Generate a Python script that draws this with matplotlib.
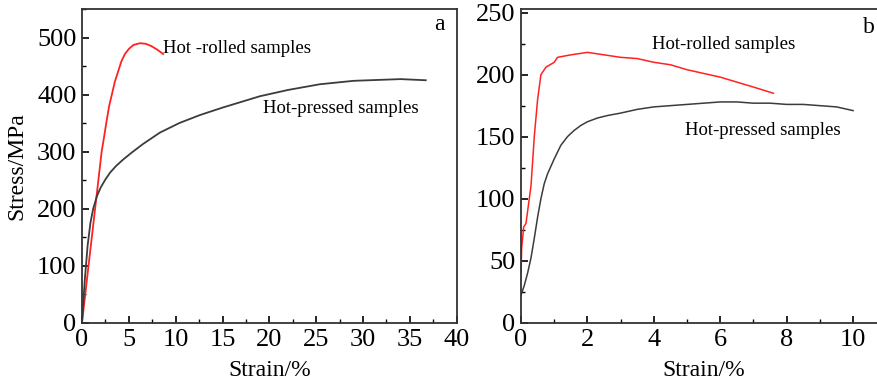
import matplotlib
matplotlib.use('Agg')
import matplotlib.pyplot as plt
from matplotlib.ticker import MultipleLocator

plt.rcParams['font.family'] = ['Liberation Serif', 'DejaVu Serif']

# panel a
a_rolled_strain = [0, 0.7, 1.4, 1.75, 2.1, 2.4, 2.63, 2.9, 3.16, 3.5, 3.87, 4.2, 4.58, 5.0, 5.5, 6.2, 6.8, 7.4, 8.0, 8.67]
a_rolled_stress = [0, 100, 200, 250, 300, 330, 354, 380, 398, 422, 441, 458, 471, 480, 487, 490, 489, 485, 479, 471]
a_pressed_strain = [0, 0.3, 0.6, 0.9, 1.2, 1.6, 2.0, 2.5, 3.0, 3.6, 4.4, 5.3, 6.5, 8.3, 10.4, 12.6, 15, 19, 22, 25.4, 29, 34, 36.7]
a_pressed_stress = [0, 75, 135, 175, 200, 222, 237, 251, 263, 274, 286, 298, 313, 333, 350, 364, 377, 397, 408, 418, 424, 427, 425]

# panel b
b_rolled_strain = [0, 0.02, 0.08, 0.15, 0.3, 0.4, 0.5, 0.6, 0.75, 1.0, 1.1, 1.5, 2.0, 2.5, 3.0, 3.5, 4.0, 4.5, 5.0, 5.5, 6.0, 6.5, 7.0, 7.6]
b_rolled_stress = [40, 60, 77, 80, 110, 150, 180, 200, 206, 210, 214, 216, 218, 216, 214, 213, 210, 208, 204, 201, 198, 194, 190, 185]
b_pressed_strain = [0, 0.1, 0.2, 0.3, 0.4, 0.5, 0.6, 0.7, 0.8, 1.0, 1.2, 1.4, 1.6, 1.8, 2.0, 2.3, 2.6, 3.0, 3.5, 4.0, 4.5, 5.0, 5.5, 6.0, 6.5, 7.0, 7.5, 8.0, 8.5, 9.0, 9.5, 10.0]
b_pressed_stress = [22, 30, 40, 52, 68, 85, 100, 112, 120, 132, 143, 150, 155, 159, 162, 165, 167, 169, 172, 174, 175, 176, 177, 178, 178, 177, 177, 176, 176, 175, 174, 171]

red = '#ff2222'
gray = '#3c3c3c'

fig = plt.figure(figsize=(8.78, 3.85), dpi=100)
ax1 = fig.add_axes([82/878, 1-322.5/385, (456.7-82)/878, (322.5-9)/385])
ax2 = fig.add_axes([521/878, 1-322.5/385, (878-521)/878 + 0.01, (322.5-9)/385])

ax1.plot(a_rolled_strain, a_rolled_stress, color=red, lw=1.3)
ax1.plot(a_pressed_strain, a_pressed_stress, color=gray, lw=1.3)
ax1.set_xlim(0, 40)
ax1.set_ylim(0, 550)
ax1.xaxis.set_major_locator(MultipleLocator(5))
ax1.xaxis.set_minor_locator(MultipleLocator(2.5))
ax1.yaxis.set_major_locator(MultipleLocator(100))
ax1.yaxis.set_minor_locator(MultipleLocator(50))
ax1.set_xlabel('Strain/%', fontsize=17, labelpad=6)
ax1.set_ylabel('Stress/MPa', fontsize=17, labelpad=7)
ax1.text(8.6, 480, 'Hot -rolled samples', fontsize=13.5, va='center', ha='left')
ax1.text(19.3, 376, 'Hot-pressed samples', fontsize=13.5, va='center', ha='left')
ax1.text(0.955, 0.95, 'a', transform=ax1.transAxes, fontsize=17, ha='center', va='center')

ax2.plot(b_rolled_strain, b_rolled_stress, color=red, lw=1.1)
ax2.plot(b_pressed_strain, b_pressed_stress, color=gray, lw=1.1)
ax2.set_xlim(0, 10.75 + 0.01 * 878 / 33.2)
ax2.set_ylim(0, 253)
ax2.xaxis.set_major_locator(MultipleLocator(2))
ax2.xaxis.set_minor_locator(MultipleLocator(1))
ax2.yaxis.set_major_locator(MultipleLocator(50))
ax2.yaxis.set_minor_locator(MultipleLocator(25))
ax2.set_xlabel('Strain/%', fontsize=17, labelpad=6)
ax2.text(3.95, 224, 'Hot-rolled samples', fontsize=13.5, va='center', ha='left')
ax2.text(4.95, 155, 'Hot-pressed samples', fontsize=13.5, va='center', ha='left')
ax2.text(10.48, 238, 'b', fontsize=17, ha='center', va='center')

for ax in (ax1, ax2):
    for s in ax.spines.values():
        s.set_linewidth(1.3)
        s.set_color('#333333')
    ax.tick_params(which='both', direction='in', top=False, right=False, labelsize=19)
    ax.tick_params(axis='x', pad=5)
    ax.tick_params(axis='y', pad=4)
    ax.tick_params(which='major', length=5, width=1.2)
    ax.tick_params(which='minor', length=3, width=1.0)

fig.savefig('out.png', dpi=100)
